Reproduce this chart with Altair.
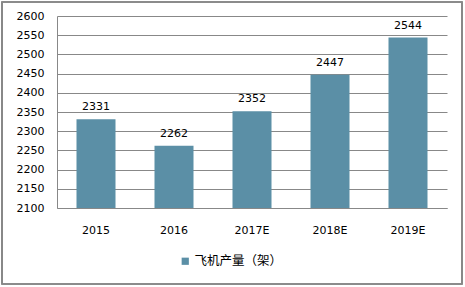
import altair as alt
import pandas as pd

years = ["2015", "2016", "2017E", "2018E", "2019E"]
values = [2331, 2262, 2352, 2447, 2544]
series = "飞机产量（架）"
y_ticks = [2100, 2150, 2200, 2250, 2300, 2350, 2400, 2450, 2500, 2550, 2600]

df = pd.DataFrame({"year": years, "value": values, "series": [series] * len(years)})

x_enc = alt.X("year:N", sort=years, title=None,
              scale=alt.Scale(paddingInner=0.5, paddingOuter=0.25),
              axis=alt.Axis(labelAngle=0, ticks=False, labelPadding=16, domainColor="#888888",
                            labelFont="DejaVu Sans", labelFontSize=11, labelColor="#000000"))
y_enc = alt.Y("value:Q", title=None,
              scale=alt.Scale(domain=[2100, 2600], nice=False, zero=False),
              axis=alt.Axis(values=y_ticks, format="d", ticks=False, labelPadding=13,
                            labelOverlap=False, domainColor="#888888", gridColor="#888888",
                            grid=True, labelFont="DejaVu Sans", labelFontSize=11,
                            labelColor="#000000"))

base = alt.Chart(df).encode(x=x_enc, y=y_enc)

bars = base.mark_bar().encode(
    y2=alt.datum(2100),
    fill=alt.Fill("series:N", scale=alt.Scale(range=["#5B8FA6"]),
                  legend=alt.Legend(title=None, orient="none", legendX=122, legendY=239,
                                    symbolType="square", symbolSize=52, symbolStrokeWidth=0,
                                    labelFont="Noto Sans CJK SC", labelFontSize=12.5,
                                    labelColor="#000000", labelOffset=3)),
)

labels = base.mark_text(dy=-12, font="DejaVu Sans", fontSize=11, color="#000000").encode(
    text="value:Q",
)

border = alt.Chart(df).mark_rect(fill=None, stroke="#888888", strokeWidth=1.2).encode(
    x=alt.value(-55), x2=alt.value(405), y=alt.value(-14), y2=alt.value(268)
)

chart = alt.layer(bars, labels, border).properties(
    width=390, height=192,
    padding={"left": 57, "top": 16, "right": 18, "bottom": 79},
    autosize=alt.AutoSizeParams(type="none"),
    background="white",
).configure_view(stroke=None)

chart.save("out.html", embed_options={"renderer": "svg", "actions": False})
